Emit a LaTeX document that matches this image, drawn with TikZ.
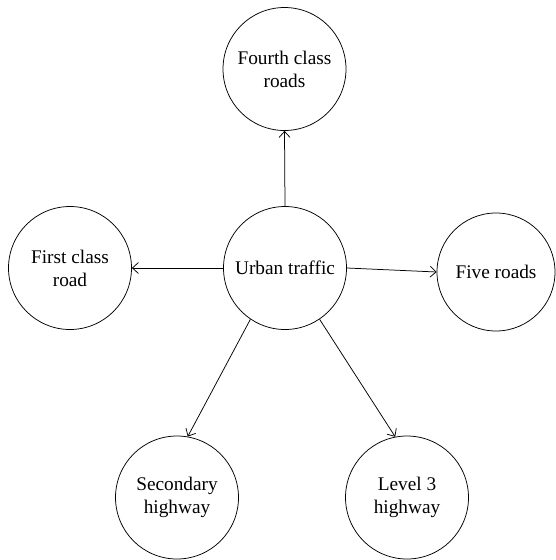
\documentclass[tikz,border=0pt]{standalone}
\usepackage{fontspec}
\setmainfont{Liberation Serif}
\usetikzlibrary{arrows.meta}
\begin{document}
\begin{tikzpicture}[x=1pt,y=-1pt,
  circ/.style={draw,circle,line width=0.75pt,inner sep=0pt,minimum size=123pt,align=center,font=\fontsize{19.3}{23}\selectfont},
  arr/.style={line width=0.75pt,-{Straight Barb[length=6pt,width=11pt,line width=0.75pt]}}]
\useasboundingbox (0,0) rectangle (556,560);
\node[circ] (u) at (285,268) {Urban traffic};
\node[circ] (f) at (284.5,69) {Fourth class\\roads};
\node[circ] (c) at (70,268) {First class\\road};
\node[circ,minimum size=118pt] (v) at (496,272) {Five roads};
\node[circ] (s) at (177,497.5) {Secondary\\highway};
\node[circ] (l) at (407,497.5) {Level 3\\highway};
\draw[arr] (u.north) -- (f.south);
\draw[arr] (u.west) -- (c.east);
\draw[arr] (u.east) -- (v.west);
\draw[arr] (u.236) -- (s.80);
\draw[arr] (u.-56) -- (l.101);
\end{tikzpicture}
\end{document}
